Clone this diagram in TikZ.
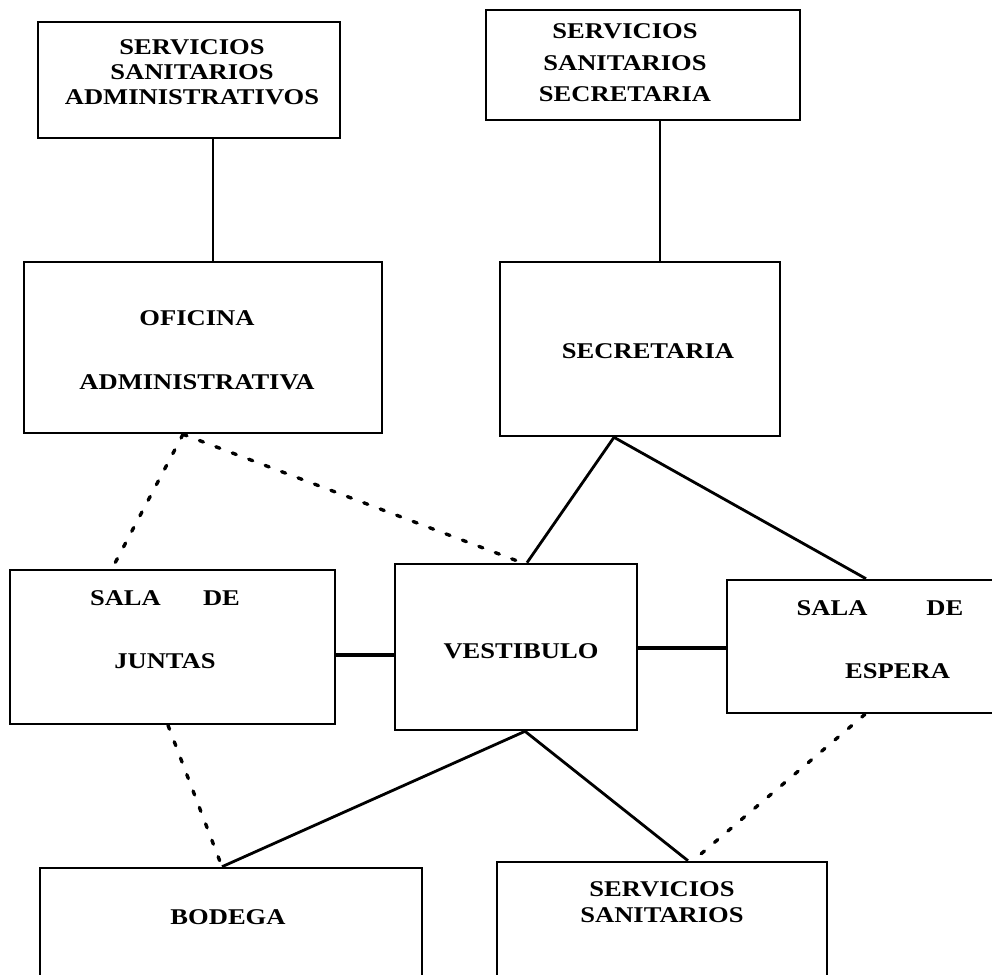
\documentclass[tikz,border=0pt]{standalone}
\usepackage{fontspec}
\setmainfont{Liberation Serif}[FakeStretch=1.18]

\begin{document}
\begin{tikzpicture}[x=0.025cm,y=-0.025cm,
  room/.style={draw,line width=1.8pt,inner sep=0pt},
  link/.style={line width=2pt},
  wall/.style={line width=3pt},
  maybe/.style={line width=2.4pt,line cap=round,dash pattern=on 3pt off 9.5pt},
  tag/.style={align=center,inner sep=0pt,font=\fontsize{16}{18}\selectfont\bfseries}]
\useasboundingbox (0,0) rectangle (992,974);
% rooms
\node[room,minimum width=7.55cm,minimum height=2.9cm] (ssa) at (189,80) {};
\node[room,minimum width=7.85cm,minimum height=2.75cm] (sss) at (643,65) {};
\node[room,minimum width=8.95cm,minimum height=4.275cm] (ofi) at (203,347.5) {};
\node[room,minimum width=7cm,minimum height=4.35cm] (sec) at (640,349) {};
\node[room,minimum width=8.125cm,minimum height=3.85cm] (sdj) at (172.5,647) {};
\node[room,minimum width=6.05cm,minimum height=4.15cm] (ves) at (516,647) {};
\node[room,minimum width=7.075cm,minimum height=3.325cm] (sde) at (868.5,646.5) {};
\node[room,minimum width=9.55cm,minimum height=3.55cm] (bod) at (231,939) {};
\node[room,minimum width=8.25cm,minimum height=3.7cm] (ssn) at (662,936) {};
% names
\node[tag,font=\fontsize{16}{17.8}\selectfont\bfseries] (ssatxt) at (192,72) {SERVICIOS\\SANITARIOS\\ADMINISTRATIVOS};
\node[tag,font=\fontsize{16}{22.4}\selectfont\bfseries] (ssstxt) at (625,63) {SERVICIOS\\SANITARIOS\\SECRETARIA};
\node[tag,font=\fontsize{16}{45.5}\selectfont\bfseries] (ofitxt) at (197,350) {OFICINA\\ADMINISTRATIVA};
\node[tag] (sectxt) at (648,351) {SECRETARIA};
\node[tag,font=\fontsize{16}{44.8}\selectfont\bfseries] (sdjtxt) at (165,630) {SALA\hspace{30pt}DE\\JUNTAS};
\node[tag] (vestxt) at (521,651) {VESTIBULO};
\node[tag,font=\fontsize{16}{45}\selectfont\bfseries] (sdetxt) at (880,640) {SALA\hspace{42pt}DE\\\hspace*{25pt}ESPERA};
\node[tag] (bodtxt) at (228,917) {BODEGA};
\node[tag,font=\fontsize{16}{18.5}\selectfont\bfseries] (ssntxt) at (662,902) {SERVICIOS\\SANITARIOS};
% links
\draw[link] (ssa.south -| 213,0) -- (ofi.north -| 213,0);
\draw[link] (sss.south -| 660,0) -- (sec.north -| 660,0);
\draw[link] (sec.south -| 614,0) -- (ves.north -| 527,0);
\draw[link] (sec.south -| 614,0) -- (sde.north -| 866,0);
\draw[wall] (sdj.east |- 0,655) -- (ves.west |- 0,655);
\draw[wall] (ves.east |- 0,648) -- (sde.west |- 0,648);
\draw[link] (ves.south -| 525,0) -- (bod.north -| 222,0);
\draw[link] (ves.south -| 525,0) -- (ssn.north -| 688,0);
\draw[maybe] (ofi.south -| 183,0) -- (sdj.north -| 112,0);
\draw[maybe] (ofi.south -| 183,0) -- (ves.north -| 522,0);
\draw[maybe] (sdj.south -| 168,0) -- (bod.north -| 222,0);
\draw[maybe] (sde.south -| 865,0) -- (ssn.north -| 693,0);
\end{tikzpicture}
\end{document}
